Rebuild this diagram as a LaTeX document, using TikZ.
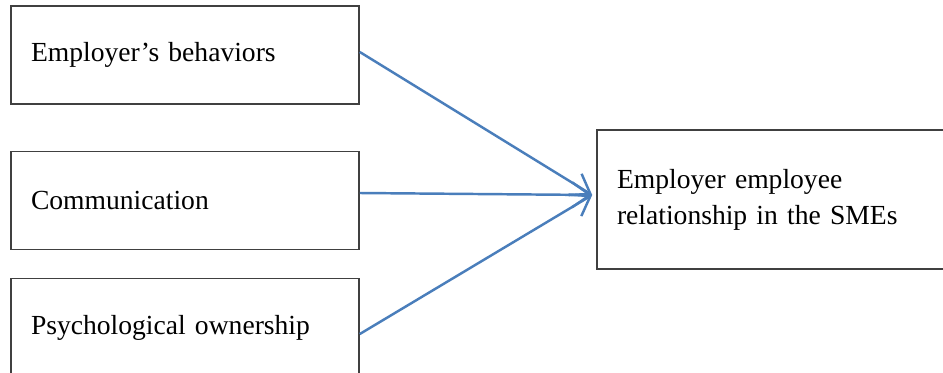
\documentclass[tikz,border=0pt]{standalone}
\usepackage{fontspec}
\setmainfont{Liberation Serif}
\usepackage{xcolor}
\usepackage{tikz}
\usetikzlibrary{arrows.meta, positioning}
\definecolor{linkblue}{HTML}{4A7EBB}
\tikzstyle{factor}  = [rectangle, minimum width=6.96cm, minimum height=1.96cm, text width=6.16cm, inner xsep=0.4cm, align=left, draw=black!75, line width=0.9pt]
\tikzstyle{outcome} = [rectangle, minimum width=7.16cm, minimum height=2.78cm, text width=6.36cm, inner xsep=0.4cm, align=left, draw=black!75, line width=0.9pt]
\tikzstyle{arrow}   = [draw=linkblue, line width=1.4pt, -{Straight Barb[length=3.6mm, width=5mm, line width=1.4pt]}]
\tikzset{every node/.style={font=\fontsize{15.7}{20.5}\selectfont}}

\begin{document}
\begin{tikzpicture}
    \useasboundingbox (0,0) rectangle (18.86,7.44);
    \node (beh)  at (3.70,  6.34) [factor]  {Employer’s behaviors};
    \node (com)  at (3.70,  3.43) [factor]  {Communication};
    \node (own)  at (3.70,  0.89) [factor]  {Psychological ownership};
    \node (rel)  at (15.52, 3.45) [outcome] {Employer employee\\relationship in the SMEs};
    % all three arrows meet just short of the outcome box
    \coordinate (hub) at ([xshift=-0.08cm, yshift=0.09cm]rel.west);

    \draw [arrow] ([yshift=0.06cm]beh.east)  -- (hub);
    \draw [arrow] ([yshift=0.15cm]com.east)  -- (hub);
    \draw [arrow] ([yshift=-0.13cm]own.east) -- (hub);
\end{tikzpicture}
\end{document}
